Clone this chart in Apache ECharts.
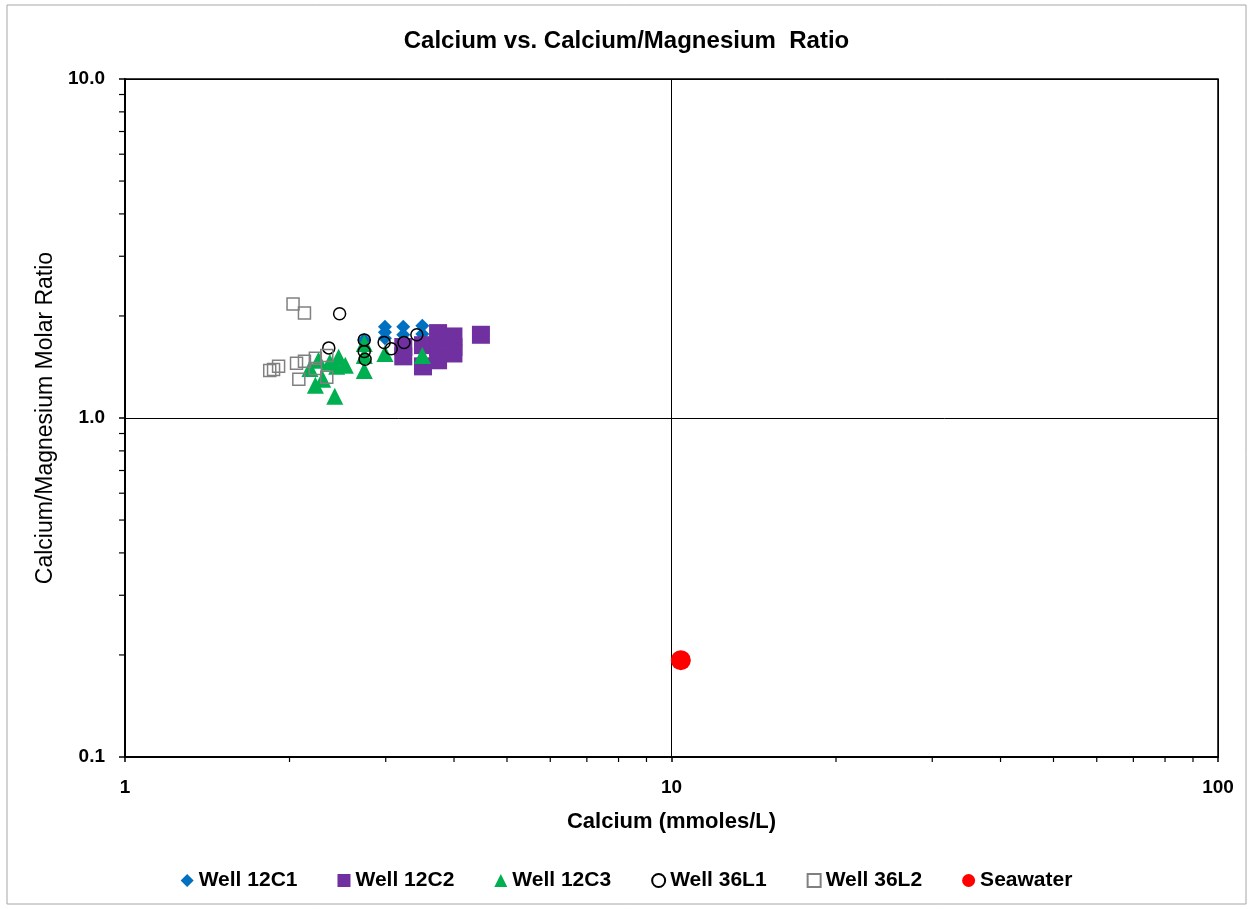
<!DOCTYPE html>
<html>
<head>
<meta charset="utf-8">
<script src="https://cdn.jsdelivr.net/npm/echarts@6/dist/echarts.min.js"></script>
<style>
  html, body { margin: 0; padding: 0; background: #fff; }
  #chart { width: 1253px; height: 909px; }
</style>
</head>
<body>
<div id="chart"></div>
<script>
// [calcium (mmoles/L), Ca/Mg molar ratio]
const well12C1 = [[2.74,1.70],[2.99,1.86],[2.99,1.79],[2.99,1.72],[3.23,1.86],[3.23,1.76],[3.50,1.87],[3.50,1.77]];
const well12C2 = [[3.23,1.62],[3.23,1.52],[3.51,1.64],[3.51,1.42],[3.74,1.78],[3.74,1.62],[3.74,1.48],[3.99,1.74],[3.99,1.62],[3.99,1.55],[4.48,1.76]];
const well12C3 = [[2.18,1.40],[2.23,1.25],[2.26,1.48],[2.30,1.30],[2.37,1.46],[2.42,1.16],[2.44,1.42],[2.46,1.51],[2.53,1.43],[2.74,1.38],[2.74,1.53],[2.74,1.66],[2.99,1.55],[3.50,1.53]];
const well36L1 = [[2.36,1.61],[2.47,2.03],[2.74,1.70],[2.74,1.57],[2.75,1.49],[2.98,1.67],[3.07,1.60],[3.24,1.67],[3.42,1.76]];
const well36L2 = [[1.84,1.38],[1.87,1.39],[1.91,1.42],[2.03,2.17],[2.13,2.04],[2.06,1.45],[2.13,1.47],[2.23,1.50],[2.08,1.30],[2.23,1.40],[2.34,1.32],[2.34,1.53]];
const seawater = [[10.4,0.193]];

const xMinorTicks = [2,3,4,5,6,7,8,9,20,30,40,50,60,70,80,90];
const yMinorTicks = [0.2,0.3,0.4,0.5,0.6,0.7,0.8,0.9,2,3,4,5,6,7,8,9];

const FONT = '"Liberation Sans", Arial, sans-serif';

const chart = echarts.init(document.getElementById('chart'), null, { renderer: 'canvas' });

const option = {
  backgroundColor: '#fff',
  animation: false,
  title: {
    text: 'Calcium vs. Calcium/Magnesium  Ratio',
    left: 'center',
    top: 24,
    textStyle: { fontFamily: FONT, fontSize: 24, fontWeight: 'bold', color: '#000' }
  },
  grid: {
    left: 125, right: 35, top: 79, bottom: 152,
    show: true, borderColor: '#000', borderWidth: 1.5, backgroundColor: 'transparent'
  },
  legend: {
    bottom: 13,
    left: 'center',
    itemWidth: 13,
    itemHeight: 13,
    itemGap: 40,
    textStyle: { fontFamily: FONT, fontSize: 21, fontWeight: 'bold', color: '#000' },
    data: ['Well 12C1', 'Well 12C2', 'Well 12C3', 'Well 36L1', 'Well 36L2', 'Seawater']
  },
  xAxis: {
    type: 'log', logBase: 10, min: 1, max: 100,
    name: 'Calcium (mmoles/L)',
    nameLocation: 'middle', nameGap: 54,
    nameTextStyle: { fontFamily: FONT, fontSize: 22, fontWeight: 'bold', color: '#000' },
    axisLine: { lineStyle: { color: '#000', width: 2 } },
    axisTick: { show: true, inside: false, length: 5, lineStyle: { color: '#000', width: 1.5 } },
    axisLabel: { fontFamily: FONT, fontSize: 19, fontWeight: 'bold', color: '#000', margin: 21,
      formatter: v => String(Math.round(v)) },
    splitLine: { show: true, lineStyle: { color: '#000', width: 1 } }
  },
  yAxis: {
    type: 'log', logBase: 10, min: 0.1, max: 10,
    name: 'Calcium/Magnesium Molar Ratio',
    nameLocation: 'middle', nameGap: 68,
    nameTextStyle: { fontFamily: FONT, fontSize: 23, color: '#000' },
    axisLine: { lineStyle: { color: '#000', width: 2 } },
    axisTick: { show: true, inside: false, length: 6, lineStyle: { color: '#000', width: 1.5 } },
    axisLabel: { fontFamily: FONT, fontSize: 19, fontWeight: 'bold', color: '#000', margin: 20,
      formatter: v => v.toFixed(1) },
    splitLine: { show: true, lineStyle: { color: '#000', width: 1 } }
  },
  series: [
    { name: 'Well 12C1', type: 'scatter', data: well12C1, symbol: 'diamond', symbolSize: 14,
      itemStyle: { color: '#0070C0', opacity: 1 } },
    { name: 'Well 12C2', type: 'scatter', data: well12C2, symbol: 'rect', symbolSize: 18,
      itemStyle: { color: '#7030A0', opacity: 1 } },
    { name: 'Well 12C3', type: 'scatter', data: well12C3, symbol: 'triangle', symbolSize: 17,
      itemStyle: { color: '#00B050', opacity: 1 } },
    { name: 'Well 36L1', type: 'scatter', data: well36L1, symbol: 'circle', symbolSize: 12,
      itemStyle: { color: 'rgba(255,255,255,0)', borderColor: '#000', borderWidth: 1.5, opacity: 1 } },
    { name: 'Well 36L2', type: 'scatter', data: well36L2, symbol: 'rect', symbolSize: 12,
      itemStyle: { color: 'rgba(255,255,255,0)', borderColor: '#808080', borderWidth: 1.5, opacity: 1 } },
    { name: 'Seawater', type: 'scatter', data: seawater, symbol: 'circle', symbolSize: 20,
      itemStyle: { color: '#FF0000', opacity: 1 } }
  ]
};

chart.setOption(option);

// Minor log ticks on both axes, placed through the axis scales
const x0 = chart.convertToPixel({ xAxisIndex: 0 }, 1);
const yBase = chart.convertToPixel({ yAxisIndex: 0 }, 0.1);
const ticks = [];
xMinorTicks.forEach(v => {
  const px = chart.convertToPixel({ xAxisIndex: 0 }, v);
  ticks.push({ type: 'line', shape: { x1: px, y1: yBase, x2: px, y2: yBase + 5 },
    style: { stroke: '#000', lineWidth: 1.2 }, silent: true });
});
yMinorTicks.forEach(v => {
  const py = chart.convertToPixel({ yAxisIndex: 0 }, v);
  ticks.push({ type: 'line', shape: { x1: x0 - 6, y1: py, x2: x0, y2: py },
    style: { stroke: '#000', lineWidth: 1.2 }, silent: true });
});
ticks.push({ type: 'rect', shape: { x: 7, y: 5, width: 1239, height: 899 },
  style: { fill: 'none', stroke: '#A6A6A6', lineWidth: 1 }, silent: true, z: -1 });
chart.setOption({ graphic: ticks });
</script>
</body>
</html>
